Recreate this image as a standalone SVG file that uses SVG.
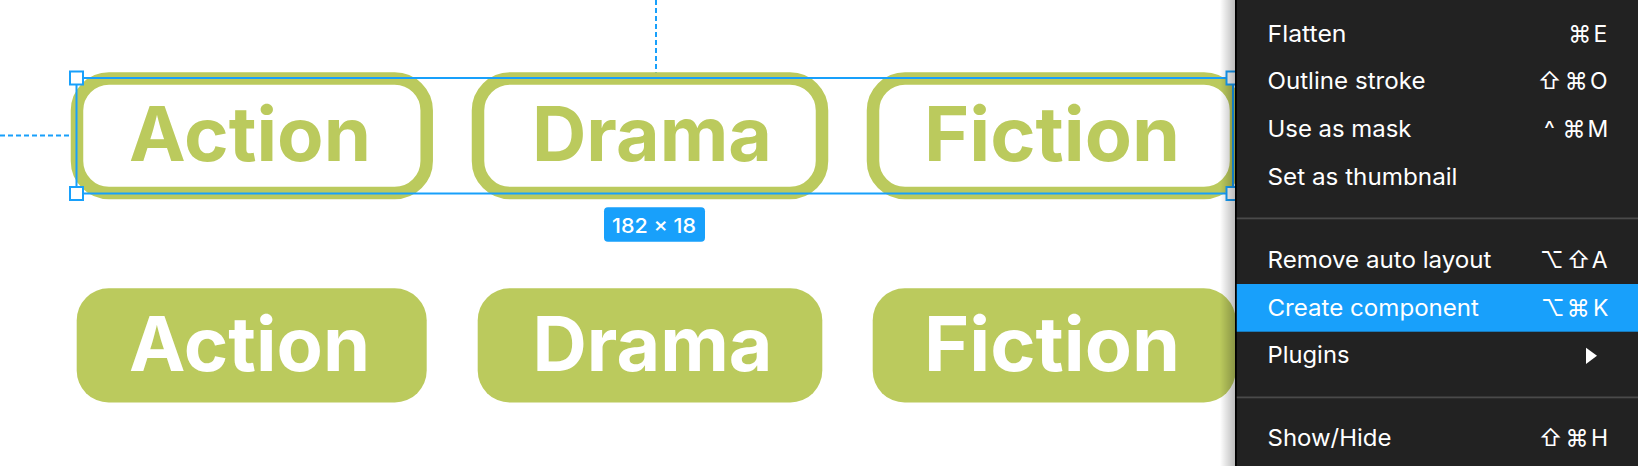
<svg xmlns="http://www.w3.org/2000/svg" width="1638" height="466" viewBox="0 0 1638 466">
<style>
.pill-o{fill:#fff;stroke:#BBCA5D;stroke-width:12.5}
.pill-f{fill:#BBCA5D}
.pt{font-family:Inter,"Noto Sans","Liberation Sans",sans-serif;font-weight:700;font-size:75px;text-anchor:middle}
.green{fill:#BBCA5D}
.white{fill:#fff}
.guide{stroke:#18A0FB;stroke-width:2;stroke-dasharray:5 3;fill:none}
.sel{fill:none;stroke:#18A0FB;stroke-width:2}
.handle{fill:#fff;stroke:#18A0FB;stroke-width:2}
.mi{font-family:Inter,"Noto Sans","Liberation Sans",sans-serif;font-size:23px;fill:#fff}
.sc{font-family:Inter,"DejaVu Sans","Noto Sans",sans-serif;font-size:23px;fill:#fff;text-anchor:middle}
.sep{fill:#4a4a4a}
</style>
<defs>
<linearGradient id="shadow" x1="0" y1="0" x2="1" y2="0">
<stop offset="0" stop-color="#000" stop-opacity="0"/>
<stop offset="1" stop-color="#000" stop-opacity="0.28"/>
</linearGradient>
</defs>
<rect width="1638" height="466" fill="#fff"/>

<g id="connectors">
<line class="guide" x1="656" y1="0" x2="656" y2="78"/>
<line class="guide" x1="0" y1="135.5" x2="76" y2="135.5"/>
</g>

<g id="top-action">
<rect class="pill-o" x="77" y="78.5" width="349.7" height="114.5" rx="32"/>
<text class="pt green" x="250" y="161" textLength="242" lengthAdjust="spacingAndGlyphs">Action</text>
</g>
<g id="top-drama">
<rect class="pill-o" x="478" y="78.5" width="344" height="114.5" rx="32"/>
<text class="pt green" x="652" y="161" textLength="240" lengthAdjust="spacingAndGlyphs">Drama</text>
</g>
<g id="top-fiction">
<rect class="pill-o" x="873" y="78.5" width="363" height="114.5" rx="32"/>
<text class="pt green" x="1052" y="161" textLength="256" lengthAdjust="spacingAndGlyphs">Fiction</text>
</g>

<g id="selection">
<rect class="sel" x="76.5" y="78" width="1156.5" height="115.5"/>
<rect class="handle" x="70" y="71.5" width="13" height="13"/>
<rect class="handle" x="70" y="187" width="13" height="13"/>
<rect class="handle" x="1226.5" y="71.5" width="13" height="13"/>
<rect class="handle" x="1226.5" y="187" width="13" height="13"/>
</g>

<g id="dimension-label">
<rect x="604" y="207.3" width="101" height="34.4" rx="4" fill="#18A0FB"/>
<text x="654" y="232.7" font-family="Inter,'Noto Sans','Liberation Sans',sans-serif" font-size="20.5" font-weight="500" fill="#fff" text-anchor="middle" textLength="84" lengthAdjust="spacingAndGlyphs">182 × 18</text>
</g>

<g id="bottom-action">
<rect class="pill-f" x="76.7" y="288.3" width="350" height="114.2" rx="32"/>
<text class="pt white" x="249.5" y="371" textLength="241" lengthAdjust="spacingAndGlyphs">Action</text>
</g>
<g id="bottom-drama">
<rect class="pill-f" x="477.7" y="288.3" width="344.6" height="114.2" rx="32"/>
<text class="pt white" x="652.5" y="371" textLength="240" lengthAdjust="spacingAndGlyphs">Drama</text>
</g>
<g id="bottom-fiction">
<rect class="pill-f" x="872.7" y="288.3" width="363" height="114.2" rx="32"/>
<text class="pt white" x="1052" y="371" textLength="256" lengthAdjust="spacingAndGlyphs">Fiction</text>
</g>

<g id="context-menu">
<rect x="1220" y="0" width="16" height="466" fill="url(#shadow)"/>
<rect x="1236" y="0" width="402" height="466" fill="#222222"/>
<rect x="1235" y="0" width="1.8" height="466" fill="#000"/>
<rect x="1236.8" y="284" width="401.2" height="47.7" fill="#18A0FB"/>
<rect class="sep" x="1236.8" y="217.5" width="401.2" height="1.8"/>
<rect class="sep" x="1236.8" y="396.5" width="401.2" height="1.8"/>

<text class="mi" x="1267.5" y="41.7" textLength="79" lengthAdjust="spacingAndGlyphs">Flatten</text>
<text class="mi" x="1267.5" y="89.3" textLength="158" lengthAdjust="spacingAndGlyphs">Outline stroke</text>
<text class="mi" x="1267.5" y="137.3" textLength="144" lengthAdjust="spacingAndGlyphs">Use as mask</text>
<text class="mi" x="1267.5" y="185" textLength="190" lengthAdjust="spacingAndGlyphs">Set as thumbnail</text>
<text class="mi" x="1267.5" y="268.3" textLength="224" lengthAdjust="spacingAndGlyphs">Remove auto layout</text>
<text class="mi" x="1267.5" y="316" textLength="211.5" lengthAdjust="spacingAndGlyphs">Create component</text>
<text class="mi" x="1267.5" y="363.3" textLength="82" lengthAdjust="spacingAndGlyphs">Plugins</text>
<text class="mi" x="1267.5" y="446" textLength="124" lengthAdjust="spacingAndGlyphs">Show/Hide</text>

<text class="sc" x="1579.7" y="41.7">⌘</text><text class="sc" x="1600.5" y="41.7">E</text>
<text class="sc" x="1549.7" y="89.3">⇧</text><text class="sc" x="1576.3" y="89.3">⌘</text><text class="sc" x="1598.7" y="89.3">O</text>
<text class="sc" x="1549.3" y="137.3">^</text><text class="sc" x="1574" y="137.3">⌘</text><text class="sc" x="1598" y="137.3">M</text>
<text class="sc" x="1551.7" y="268.3">⌥</text><text class="sc" x="1578.7" y="268.3">⇧</text><text class="sc" x="1599.8" y="268.3">A</text>
<text class="sc" x="1552.7" y="316">⌥</text><text class="sc" x="1578.3" y="316">⌘</text><text class="sc" x="1600.7" y="316">K</text>
<text class="sc" x="1550.5" y="446">⇧</text><text class="sc" x="1577" y="446">⌘</text><text class="sc" x="1599.5" y="446">H</text>
<polygon points="1586,347.7 1597,355.8 1586,364" fill="#fff"/>
</g>
</svg>
